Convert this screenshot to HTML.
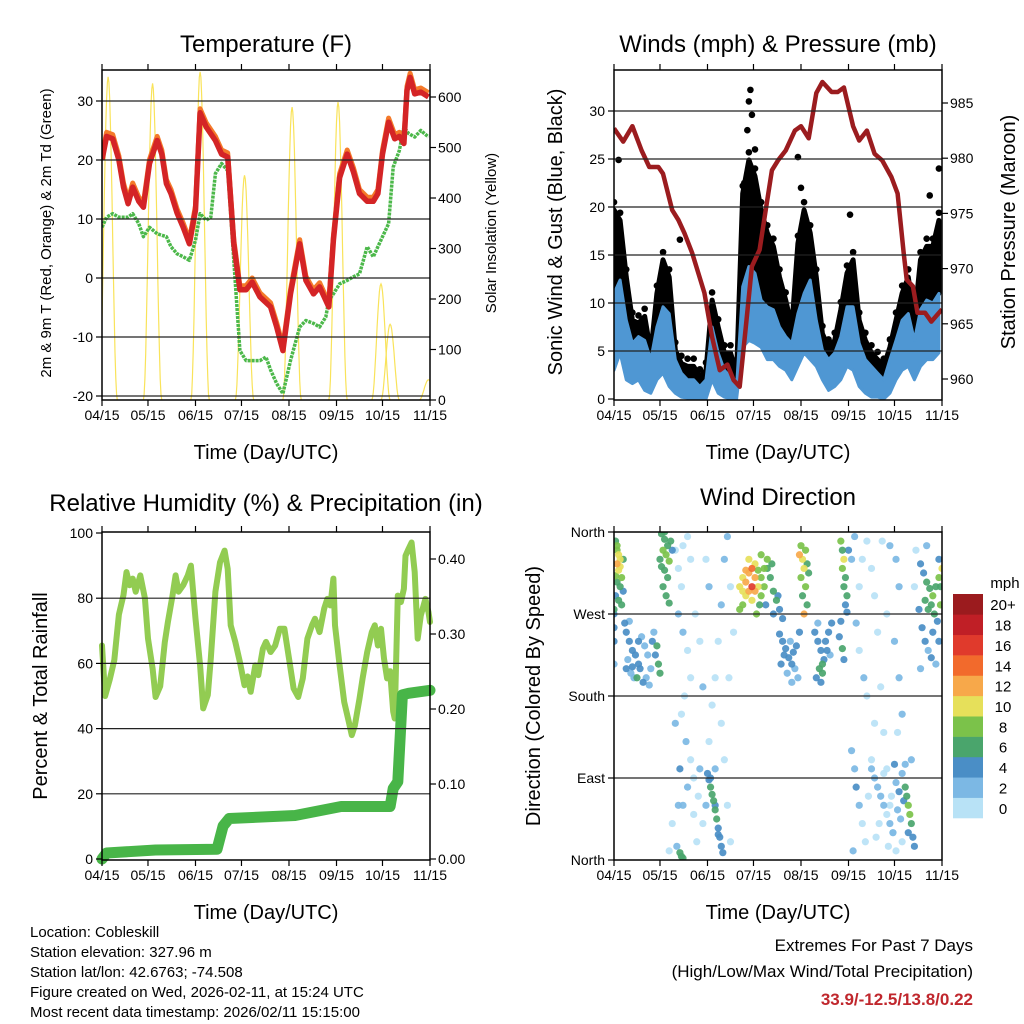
<!DOCTYPE html>
<html><head><meta charset="utf-8"><title>Station Charts</title>
<style>
html,body{margin:0;padding:0;background:#fff;}
svg{display:block;font-family:"Liberation Sans",Arial,sans-serif;}
</style></head>
<body>
<svg id="root" xmlns="http://www.w3.org/2000/svg" width="1024" height="1024" viewBox="0 0 1024 1024">
<rect x="0" y="0" width="1024" height="1024" fill="#fff"/>
<g id="plots"></g>
<!-- titles -->
<text x="266" y="52" font-size="24" text-anchor="middle">Temperature (F)</text>
<text x="778" y="52" font-size="24" text-anchor="middle">Winds (mph) &amp; Pressure (mb)</text>
<text x="266" y="511" font-size="24" text-anchor="middle">Relative Humidity (%) &amp; Precipitation (in)</text>
<text x="778" y="505" font-size="24" text-anchor="middle">Wind Direction</text>
<text x="266" y="459" font-size="20" text-anchor="middle">Time (Day/UTC)</text>
<text x="778" y="459" font-size="20" text-anchor="middle">Time (Day/UTC)</text>
<text x="266" y="919" font-size="20" text-anchor="middle">Time (Day/UTC)</text>
<text x="778" y="919" font-size="20" text-anchor="middle">Time (Day/UTC)</text>
<text transform="translate(51,233) rotate(-90)" font-size="15" text-anchor="middle">2m &amp; 9m T (Red, Orange) &amp; 2m Td (Green)</text>
<text transform="translate(496,233) rotate(-90)" font-size="15" text-anchor="middle">Solar Insolation (Yellow)</text>
<text transform="translate(562,232) rotate(-90)" font-size="20" text-anchor="middle">Sonic Wind &amp; Gust (Blue, Black)</text>
<text transform="translate(1015,232) rotate(-90)" font-size="20" text-anchor="middle">Station Pressure (Maroon)</text>
<text transform="translate(47,696) rotate(-90)" font-size="20" text-anchor="middle">Percent &amp; Total Rainfall</text>
<text transform="translate(540,696) rotate(-90)" font-size="20" text-anchor="middle">Direction (Colored By Speed)</text>
<!-- footer -->
<g font-size="15">
<text x="30" y="937">Location: Cobleskill</text>
<text x="30" y="957">Station elevation: 327.96 m</text>
<text x="30" y="977">Station lat/lon: 42.6763; -74.508</text>
<text x="30" y="997">Figure created on Wed, 2026-02-11, at 15:24 UTC</text>
<text x="30" y="1017">Most recent data timestamp: 2026/02/11 15:15:00</text>
</g>
<text x="973" y="951" font-size="17" text-anchor="end">Extremes For Past 7 Days</text>
<text x="973" y="977" font-size="17" text-anchor="end">(High/Low/Max Wind/Total Precipitation)</text>
<text x="973" y="1005" font-size="17" font-weight="bold" fill="#c0272d" text-anchor="end">33.9/-12.5/13.8/0.22</text>
</svg>
<script>
// ---------- DATA ----------
const monthLabels = ["04/15","05/15","06/15","07/15","08/15","09/15","10/15","11/15"];
const monthDays = [0,30,61,91,122,153,183,214];

const tempDays = [0,3,7,11,14,17,20,24,27,31,36,39,42,45,49,53,57,61,64,68,74,78,82,86,90,94,98,103,110,114,118,123,129,133,138,142,148,151,155,160,164,168,173,177,180,183,187,191,194,197,199,201,204,208,213];
const tempVals = [20,24,23.6,20,15.4,12.6,15.4,13,12,19.4,23.3,21,16,14.3,11,8.6,5.8,11.5,28,25.6,23.3,21,20.5,5.8,-2,-2,-0.7,-3.2,-4.9,-8.3,-12.3,-2.7,5.8,-0.4,-2.7,-1.5,-4.9,6.4,17,21,18,14.3,13,13,14.3,21,26.4,23.6,24,22.8,31.8,34,31.2,31.5,30.7];
const tdDays = [0,3,7,11,17,20,24,27,31,36,42,45,49,53,57,61,64,68,71,74,78,82,86,90,94,98,103,107,110,114,118,123,129,133,138,142,146,148,151,155,160,164,168,173,177,180,183,187,190,194,197,200,204,208,213];
const tdVals = [8.6,10.3,10.9,10.3,10.3,10.9,9.2,7,8.6,7.5,7,5.3,4.1,3.6,3,6.4,10.9,9.8,10.3,17.7,19.4,18.2,3,-12.3,-14,-14,-14,-13.4,-15.6,-17.9,-19.6,-14,-8.3,-7.2,-7.7,-8.3,-6.6,-3.8,-2.7,-1,-0.4,0.2,0.7,5.3,3.6,5.3,7,9.2,18.8,21.6,25.6,24.5,23.9,25,23.9];
const solarDays = [4,33,64,93,124,154,182,188,213];
const solarPeaks = [640,627,650,445,580,590,230,150,40];

const windDays = [0,4,8,12,16,20,24,28,32,36,40,44,48,52,56,60,64,68,72,76,80,84,88,92,96,100,104,108,112,116,120,124,128,132,136,140,144,148,152,156,160,164,168,172,176,180,184,188,192,196,200,204,208,212];
const gustHi = [19.7,18.6,12.7,8.2,7.9,8.6,4.8,11,14.5,12.7,5.1,3.7,3.4,3.4,2.3,3,10.3,7.5,4.8,4.8,2.7,21.4,24.9,23.2,19.7,17.3,15.9,12.7,10.3,7.5,16.2,19.7,17.3,12.7,6.8,5.4,6.1,9.3,13.1,14.5,8.2,6.1,4.8,4.1,3.4,5.4,8.2,11,12.7,8.2,14.5,15.9,15.9,18.6];
const windHi = [11,12.4,8.2,5.8,6.5,6.1,4.1,7.5,9.6,8.9,4.1,2.7,2,2,1.3,2,7.5,4.8,3,2.3,1.3,11.7,13.8,13.1,10.3,9.6,9.3,7.5,6.5,5.8,8.9,11,12.4,8.2,5.1,4.1,4.8,6.5,9.6,9.6,5.8,4.1,3.4,2.7,2,4.1,6.1,8.2,8.9,6.1,9.3,10.3,10,11];
const windLo = [3,4.8,2,1.6,2,0.9,0.6,2,2.7,1.3,0.6,0.2,0.1,0,0,0,2,0.6,0.2,0,0,5.4,6.1,5.8,5.4,4.1,4.1,3.4,3,2,3.4,4.8,4.1,3.4,2,0.9,1.3,2,3.4,3,1.3,0.6,0.2,0.2,0,0.6,2,3,3.4,2,3.4,4.1,4.1,4.8];
const gustOutDays = [2,3,43,85,87,88,89,90,92,120,122,154,206,212];
const gustOutVals = [17.6,24.9,16.6,22.5,28,31,32.2,29.6,26,25.2,22,19.2,21.2,24];
const presDays = [0,6,12,18,23,29,32,38,42,46,51,55,59,64,69,74,78,82,86,90,95,99,103,107,112,118,122,127,132,136,142,146,150,156,160,165,170,175,181,185,189,191,195,198,203,207,214];
const presVals = [982.7,981.5,982.9,980.7,979.2,979.2,978.6,975.3,974.4,973.2,971.4,969.6,967.8,963.8,960.8,961.3,959.9,959.3,964.7,970.2,971.7,975.3,978.9,979.8,980.7,982.5,982.9,981.8,985.9,986.9,986,986,986.4,982.9,981.6,982.5,980.4,979.8,978.3,976.8,971.4,969,968.4,966,966,965.2,966.3];

const rhDays = [0,2,5,8,11,14,16,18,20,22,25,28,30,33,35,38,41,43,46,48,50,53,56,58,61,64,66,69,71,74,77,80,82,84,87,90,93,95,97,100,102,105,107,110,113,116,119,122,125,128,131,134,137,139,142,145,147,149,151,152,155,158,161,163,165,168,170,173,176,178,180,182,184,186,188,190,191,193,195,197,198,200,202,204,206,208,211,213,214];
const rhVals = [65.5,50,55,61,75,81,88,84,86,82,87,80,67.6,58.4,49.7,53,66.5,72.7,80.8,87,82,84,87,90,73.7,59.4,46.2,50.3,61.5,82,91,94.6,89,71.7,66.6,60.4,53.3,56,51.3,59.4,56.4,64.5,66.6,63.5,65.5,70.6,70.6,61.5,52.3,49.7,55.4,67.6,71.7,73.7,69.6,76.8,79.8,77.8,86,71.7,59.4,48.2,42.1,38,41,49.2,55.4,63.5,69.6,71.7,65.5,70.6,61.5,55.4,57.6,45.2,43.1,80.8,78.8,82.9,93,95.1,97.1,88,67.6,74.7,79.8,75.7,72.7];
const precDays = [0,3,35,75,79,83,126,156,188,190,193,196,200,214];
const precVals = [0,0.008,0.012,0.013,0.044,0.054,0.058,0.07,0.07,0.094,0.103,0.219,0.221,0.225];

// wind direction points: day, direction (deg), speed (mph)
const dirDays = [1,2,3,2,4,3,5,2,4,1,3,5,2,4,1,0,6,6, 8,10,12,9,14,16,11,13,18,20,22,24,26,28,29,30,15,17,7,21,25,19,10,27,23,12,16,8, 0,0,0,0, 31,33,35,32,34,36,31,33,35,32,34,36,30,37,38,33,
40,42,44,45,48,50,42,45,48,50,46,44,47,50,52,55,58,54,45,43,48,52,56,60,62,64,66,68,70,72,74,76,78,75,70,72,74,76,66,60,62,56,58,53,40,42,38,36,41,
61,62,63,64,65,66,67,68,69,70,71,63,66,68, 43,44,45,
82,84,86,88,90,92,94,86,88,90,84,92,94,96,98,100,102,104,106,100,96,88,90,86,92,84,82,96,98,103,99,104,108,110,107,95,93,
108,110,112,114,116,118,113,115,117,119,111,120,121,109,116,
121,123,124,122,125,123,126,124,122,126,127,125,
131,133,135,137,136,134,132,138,140,139,135,142,141,136,133,
148,149,150,149,151,150,152,151,152,148,147,149,150,153,155,
155,157,158,160,162,164,166,168,170,165,163,160,158,160,162,165,168,170,172,174,176,178,180,182,184,175,180,184,186,186,188,183,178,185,157,156,
168,170,172,174,176,178,180,182,184,186,188,185,187,189,190,191,192,193,194,192,195,196,194,190,181,176,173,179,171,183,188,
202,204,206,208,210,212,214,203,205,207,209,211,213,201,203,205,207,210,212,213,200,204,199,200,208,212,197,196];
const dirVals = [350,340,335,325,330,318,310,305,300,290,285,280,345,322,312,275,295,330, 250,240,230,220,225,215,205,200,245,235,225,210,250,235,215,205,200,210,260,200,240,195,262,225,192,212,240,210, 255,240,215,270, 358,352,345,340,335,328,322,318,310,300,290,282,330,350,340,360,
340,320,300,345,355,330,270,250,230,200,180,160,130,110,90,70,40,20,60,100,80,50,100,60,130,170,200,240,280,330,355,300,250,200,150,110,60,20,100,330,300,240,190,270,150,60,40,10,15,
95,88,80,72,65,55,45,35,25,15,8,90,60,28, 8,4,2,
300,310,305,315,320,310,300,290,295,285,280,325,318,310,300,320,310,295,285,330,335,330,300,318,295,295,275,290,320,325,280,270,275,265,290,280,270,
248,240,232,222,215,210,205,240,228,235,225,200,250,215,195,
335,330,320,310,300,290,280,270,345,325,315,340,
250,240,230,220,205,210,200,240,250,230,195,260,225,215,260,
350,340,330,320,310,300,290,280,272,262,245,232,220,340,330,
120,100,80,60,40,20,70,110,150,180,200,230,260,300,330,350,320,290,250,190,140,100,60,30,10,350,345,330,300,200,160,240,270,140,355,10,
100,90,80,70,60,50,40,30,85,75,95,55,45,65,80,70,60,50,40,30,25,15,110,105,70,95,40,15,25,105,20,
315,305,298,290,300,310,320,285,275,280,270,262,280,255,240,230,222,215,240,300,325,345,275,210,250,330,340,300];
const dirSpeeds = [6,8,10,12,11,10,8,7,6,5,6,6,9,10,8,6,4,7, 4,4,4,3,4,4,2,3,3,3,2,3,2,6,6,6,6,5,4,2,4,4,3,4,3,4,4,5, 4,4,3,4, 6,7,7,8,8,9,6,7,7,6,7,6,7,6,5,6,
1,0,1,1,0,1,2,2,1,1,0,1,2,0,1,1,0,0,3,4,2,1,2,2,1,0,1,0,2,3,2,1,0,0,0,1,1,1,2,1,2,1,2,1,2,2,1,1,2,
4,4,6,6,7,7,6,4,4,4,4,4,4,4, 6,6,6,
10,11,12,13,14,12,11,10,12,10,9,10,9,8,8,7,6,6,6,8,8,10,16,12,13,10,8,9,8,6,5,4,4,5,5,6,8,
4,4,4,4,4,3,3,3,5,4,4,3,4,4,2,
12,10,10,8,8,7,7,12,8,7,6,9,
4,4,4,5,6,6,4,4,4,4,4,4,2,7,3,
8,6,10,8,6,6,6,4,4,4,4,6,4,4,2,
2,2,4,2,1,1,0,1,0,0,2,1,2,1,0,1,0,1,0,0,0,1,1,0,1,1,2,3,2,2,2,2,1,1,3,2,
3,2,2,3,2,1,2,3,3,4,3,2,3,4,6,7,8,8,7,4,4,4,2,2,1,1,1,1,1,4,1,
4,6,7,8,6,8,10,6,7,7,6,5,8,4,4,3,4,3,4,6,4,2,4,2,5,4,1,1];

const binColors = ["#b8e2f6","#7cb8e4","#4a8ec6","#4aa56c","#7bc24a","#e6e05a","#f7a84a","#f26a2c","#e03a2c","#c01f26","#9b1b1e"];
const binLabels = ["0","2","4","6","8","10","12","14","16","18","20+"];

// ---------- SCALES ----------
const PX = 328/214;
const xL = d => 102 + d*PX;
const xR = d => 614 + d*PX;
const yT = t => 278 - 5.9*t;
const yS = s => 400 - 0.505*s;
const yW = v => 399 - 9.6*v;
const yP = p => 379 - (p-960)*11.04;
const yRH = r => 859 - 3.26*r;
const yPr = p => 859 - 750*p;
const yD = d => 860 - d*328/360;

const NS = "http://www.w3.org/2000/svg";
const layer = document.getElementById('plots');
function mk(tag, attrs, parent){
  const e = document.createElementNS(NS, tag);
  for (const k in attrs) e.setAttribute(k, attrs[k]);
  (parent||layer).appendChild(e);
  return e;
}
function group(name){
  const g = mk('g', {});
  
  
  return g;
}
function pathFrom(xs, ys, fx, fy){
  return xs.map((d,i)=>(i?'L':'M')+fx(d).toFixed(1)+','+fy(ys[i]).toFixed(1)).join('');
}
function txt(x,y,s,anchor,size,parent){
  const t = mk('text',{x:x,y:y,'font-size':size||14,'text-anchor':anchor||'middle'},parent);
  t.textContent = s;
  return t;
}

// ---------- PANEL FRAME ----------
function frame(name, x0, x1, y0, y1, xf, gridVals, gridFn, leftVals, leftLabels, leftFn, rightVals, rightLabels, rightFn){
  const g = group(name+'-axes');
  // grid
  gridVals.forEach(v=>{
    const l = mk('line',{x1:x0,x2:x1,y1:gridFn(v),y2:gridFn(v),stroke:'#222','stroke-width':1.2},g);
    
    
  });
  // x ticks + labels
  monthDays.forEach((d,i)=>{
    const x = xf(d);
    mk('line',{x1:x,x2:x,y1:y1,y2:y1+6,stroke:'#000','stroke-width':1.2},g);
    mk('line',{x1:x,x2:x,y1:y0,y2:y0-6,stroke:'#000','stroke-width':1.2},g);
    const t = txt(x, y1+20, monthLabels[i], 'middle', 14, g);
    
    
  });
  leftVals.forEach((v,i)=>{
    const y = leftFn(v);
    mk('line',{x1:x0-6,x2:x0,y1:y,y2:y,stroke:'#000','stroke-width':1.2},g);
    const t = txt(x0-9, y+5, leftLabels[i], 'end', 14, g);
    
    
  });
  rightVals.forEach((v,i)=>{
    const y = rightFn(v);
    mk('line',{x1:x1,x2:x1+6,y1:y,y2:y,stroke:'#000','stroke-width':1.2},g);
    const t = txt(x1+8, y+5, rightLabels[i], 'start', 14, g);
    
    
  });
  const r = mk('rect',{x:x0,y:y0,width:x1-x0,height:y1-y0,fill:'none',stroke:'#000','stroke-width':1.5},g);
  
  
}

// ---------- PANEL 1: TEMPERATURE ----------
(function(){
  const g = group('temperature-plot');
  const clip = mk('clipPath',{id:'c1'},g);
  mk('rect',{x:102,y:70,width:328,height:330},clip);
  const cg = mk('g',{'clip-path':'url(#c1)'},g);
  solarDays.forEach((d,i)=>{
    let s='';
    for(let k=-6;k<=6;k+=0.5){
      const v = solarPeaks[i]*Math.pow(Math.cos(Math.PI*k/12),2);
      s += (s?'L':'M')+xL(d+k).toFixed(1)+','+yS(v).toFixed(1);
    }
    const p = mk('path',{d:s,fill:'none',stroke:'#f9e35a','stroke-width':1.2},cg);
    
    
  });
  const td = mk('path',{d:pathFrom(tdDays,tdVals,xL,yT),fill:'none',stroke:'#4cb84a','stroke-width':3.5,'stroke-linejoin':'round','stroke-dasharray':'3 1'},cg);
  
  
  const or = mk('path',{d:pathFrom(tempDays,tempVals.map(v=>v+0.7),xL,yT),fill:'none',stroke:'#f47a2a','stroke-width':5,'stroke-linejoin':'round'},cg);
  
  
  const rd = mk('path',{d:pathFrom(tempDays,tempVals,xL,yT),fill:'none',stroke:'#d42426','stroke-width':5.5,'stroke-linejoin':'round'},cg);
  
  
})();
frame('temperature',102,430,70,400,xL,[-20,-10,0,10,20,30],yT,[-20,-10,0,10,20,30],["-20","-10","0","10","20","30"],yT,[0,100,200,300,400,500,600],["0","100","200","300","400","500","600"],yS);

// ---------- PANEL 2: WINDS ----------
(function(){
  const g = group('winds-plot');
  const clip = mk('clipPath',{id:'c2'},g);
  mk('rect',{x:614,y:70,width:328,height:330},clip);
  const cg = mk('g',{'clip-path':'url(#c2)'},g);
  let top = windDays.map((d,i)=>xR(d).toFixed(1)+','+yW(gustHi[i]).toFixed(1));
  let bot = windDays.slice().reverse().map((d,j)=>{const i=windDays.length-1-j;return xR(d).toFixed(1)+','+yW(windHi[i]).toFixed(1);});
  const gb = mk('polygon',{points:top.concat(bot).join(' '),fill:'#000',stroke:'#000','stroke-width':5,'stroke-linejoin':'round'},cg);
  
  
  windDays.forEach((d,i)=>{
    const c = mk('circle',{cx:xR(d),cy:yW(gustHi[i]+0.8),r:3.3,fill:'#000'},cg);
    
    
  });
  gustOutDays.forEach((d,i)=>{
    const c = mk('circle',{cx:xR(d),cy:yW(gustOutVals[i]),r:3.3,fill:'#000'},cg);
    
    
  });
  top = windDays.map((d,i)=>xR(d).toFixed(1)+','+yW(windHi[i]).toFixed(1));
  bot = windDays.slice().reverse().map((d,j)=>{const i=windDays.length-1-j;return xR(d).toFixed(1)+','+yW(windLo[i]).toFixed(1);});
  const wb = mk('polygon',{points:top.concat(bot).join(' '),fill:'#4f97d3',stroke:'#4f97d3','stroke-width':3,'stroke-linejoin':'round'},cg);
  
  
  const pr = mk('path',{d:pathFrom(presDays,presVals,xR,yP),fill:'none',stroke:'#9b1c1f','stroke-width':4.5,'stroke-linejoin':'round'},cg);
  
  
})();
frame('winds',614,942,70,400,xR,[5,10,15,20,25,30],yW,[0,5,10,15,20,25,30],["0","5","10","15","20","25","30"],yW,[960,965,970,975,980,985],["960","965","970","975","980","985"],yP);

// ---------- PANEL 3: HUMIDITY ----------
(function(){
  const g = group('humidity-plot');
  const rh = mk('path',{d:pathFrom(rhDays,rhVals,xL,yRH),fill:'none',stroke:'#92cc52','stroke-width':6,'stroke-linejoin':'round','stroke-linecap':'round'},g);
  
  
  const pc = mk('path',{d:pathFrom(precDays,precVals,xL,yPr),fill:'none',stroke:'#48b548','stroke-width':11,'stroke-linejoin':'round','stroke-linecap':'round'},g);
  
  
})();
frame('humidity',102,430,532,860,xL,[20,40,60,80],yRH,[0,20,40,60,80,100],["0","20","40","60","80","100"],yRH,[0,0.1,0.2,0.3,0.4],["0.00","0.10","0.20","0.30","0.40"],yPr);

// ---------- PANEL 4: WIND DIRECTION ----------
(function(){
  const g = group('wind-direction-plot');
  const clip = mk('clipPath',{id:'c4'},g);
  mk('rect',{x:614,y:532,width:328,height:328},clip);
  const cg = mk('g',{'clip-path':'url(#c4)'},g);
  const idx = dirDays.map((d,i)=>i).sort((a,b)=>dirSpeeds[a]-dirSpeeds[b]);
  idx.forEach(i=>{
    const b = Math.min(10, Math.floor(dirSpeeds[i]/2));
    const c = mk('circle',{cx:xR(dirDays[i]),cy:yD(dirVals[i]),r:3.6,fill:binColors[b],'fill-opacity':0.92},cg);
    
    
  });
  // colorbar
  const cb = group('speed-colorbar');
  const bh = 224/11;
  binColors.forEach((col,i)=>{
    const y = 818 - (i+1)*bh;
    const r = mk('rect',{x:953,y:y,width:30,height:bh+0.3,fill:col},cb);
    
    
    const t = txt(1003, y+bh/2+6, binLabels[i], 'middle', 15, cb);
    
    
  });
  const u = txt(1005, 588, 'mph', 'middle', 15, cb);
  
  
})();
frame('wind-direction',614,942,532,860,xR,[90,180,270],yD,[0,90,180,270,360],["North","East","South","West","North"],yD,[],[],yD);
</script>
</body></html>
